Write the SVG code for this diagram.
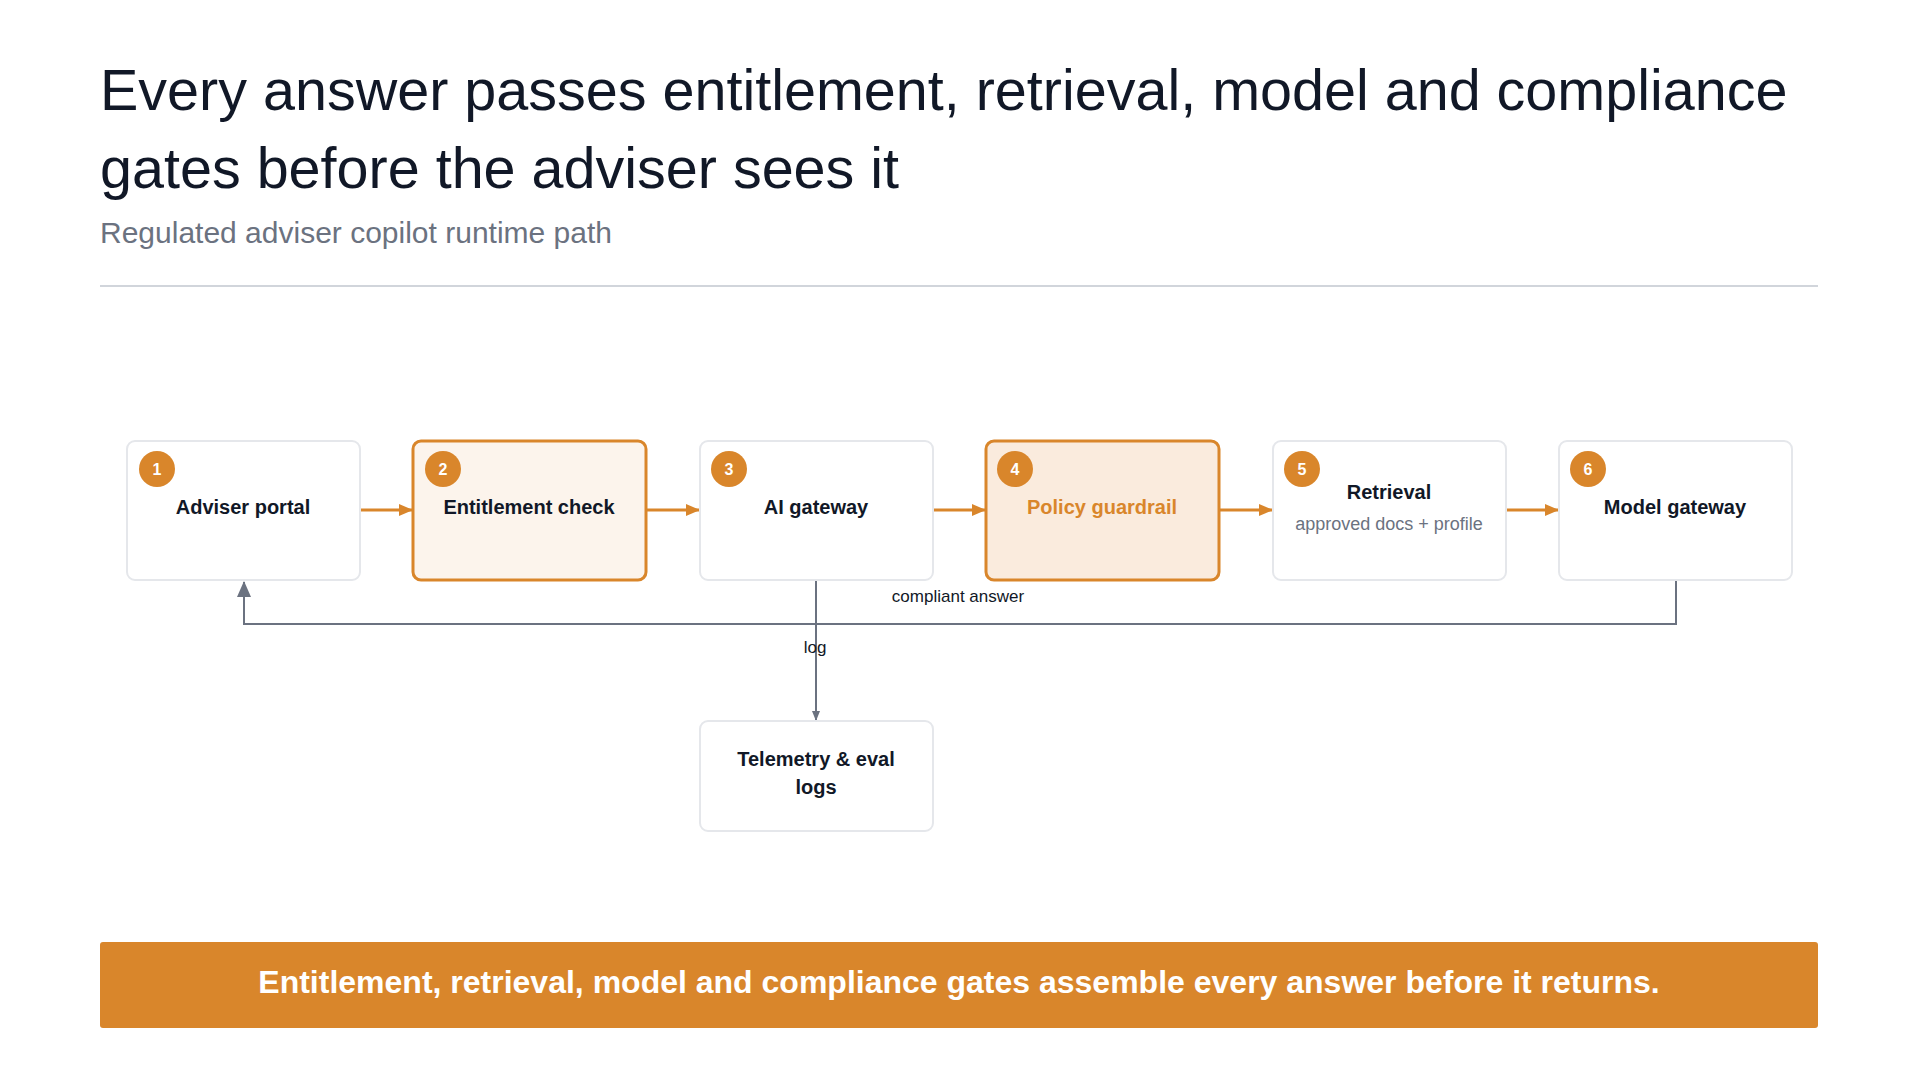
<svg xmlns="http://www.w3.org/2000/svg" width="1919" height="1080" viewBox="0 0 1919 1080">
<style>
text{font-family:"Liberation Sans",Arial,sans-serif}
.box{fill:#fff;stroke:#e5e7eb;stroke-width:2}
.hl{stroke:#d9862b;stroke-width:3}
.lbl{font-size:20px;font-weight:bold;fill:#111827;text-anchor:middle}
.num{font-size:16px;font-weight:bold;fill:#fff;text-anchor:middle}
.flow{stroke:#d9862b;stroke-width:3;fill:none;marker-end:url(#ao)}
.ret{stroke:#6b7280;stroke-width:2;fill:none}
.small{font-size:17px;fill:#111827;text-anchor:middle}
</style>
<defs>
<marker id="ao" markerWidth="14" markerHeight="12" refX="13" refY="6" orient="auto" markerUnits="userSpaceOnUse"><path d="M0,0 L14,6 L0,12 z" fill="#d9862b"/></marker>
<marker id="ag" markerWidth="16" markerHeight="16" refX="15" refY="8" orient="auto" markerUnits="userSpaceOnUse"><path d="M0,1 L16,8 L0,15 z" fill="#6b7280"/></marker>
<marker id="ag2" markerWidth="10" markerHeight="10" refX="9" refY="5" orient="auto" markerUnits="userSpaceOnUse"><path d="M0,1 L10,5 L0,9 z" fill="#6b7280"/></marker>
</defs>
<rect width="1919" height="1080" fill="#fff"/>
<text x="100" y="110" font-size="57.5" fill="#111827">Every answer passes entitlement, retrieval, model and compliance</text>
<text x="100" y="188" font-size="57.5" fill="#111827">gates before the adviser sees it</text>
<text x="100" y="243" font-size="30" fill="#6b7280">Regulated adviser copilot runtime path</text>
<line x1="100" y1="286" x2="1818" y2="286" stroke="#d1d5db" stroke-width="2"/>
<g id="connectors">
<line class="flow" x1="361" y1="510" x2="412" y2="510"/>
<line class="flow" x1="646" y1="510" x2="699" y2="510"/>
<line class="flow" x1="934" y1="510" x2="985" y2="510"/>
<line class="flow" x1="1220" y1="510" x2="1272" y2="510"/>
<line class="flow" x1="1507" y1="510" x2="1558" y2="510"/>
<path class="ret" d="M1676,581 V624 H244 V582" marker-end="url(#ag)"/>
<text class="small" x="958" y="602">compliant answer</text>
<path class="ret" d="M816,581 V720" marker-end="url(#ag2)"/>
<text class="small" x="815" y="653">log</text>
</g>
<g id="n1"><rect class="box" x="127" y="441" width="233" height="139" rx="8"/><circle cx="157" cy="469" r="18" fill="#d9862b"/><text class="num" x="157" y="475">1</text><text class="lbl" x="243" y="514">Adviser portal</text></g>
<g id="n2"><rect class="box hl" x="413" y="441" width="233" height="139" rx="8" style="fill:#fcf4ec"/><circle cx="443" cy="469" r="18" fill="#d9862b"/><text class="num" x="443" y="475">2</text><text class="lbl" x="529" y="514">Entitlement check</text></g>
<g id="n3"><rect class="box" x="700" y="441" width="233" height="139" rx="8"/><circle cx="729" cy="469" r="18" fill="#d9862b"/><text class="num" x="729" y="475">3</text><text class="lbl" x="816" y="514">AI gateway</text></g>
<g id="n4"><rect class="box hl" x="986" y="441" width="233" height="139" rx="8" style="fill:#faebdd"/><circle cx="1015" cy="469" r="18" fill="#d9862b"/><text class="num" x="1015" y="475">4</text><text class="lbl" x="1102" y="514" style="fill:#d9862b">Policy guardrail</text></g>
<g id="n5"><rect class="box" x="1273" y="441" width="233" height="139" rx="8"/><circle cx="1302" cy="469" r="18" fill="#d9862b"/><text class="num" x="1302" y="475">5</text><text class="lbl" x="1389" y="499">Retrieval</text><text x="1389" y="530" font-size="18" fill="#6b7280" text-anchor="middle">approved docs + profile</text></g>
<g id="n6"><rect class="box" x="1559" y="441" width="233" height="139" rx="8"/><circle cx="1588" cy="469" r="18" fill="#d9862b"/><text class="num" x="1588" y="475">6</text><text class="lbl" x="1675" y="514">Model gateway</text></g>
<g id="n7"><rect class="box" x="700" y="721" width="233" height="110" rx="8"/><text class="lbl" x="816" y="766">Telemetry &amp; eval</text><text class="lbl" x="816" y="794">logs</text></g>
<g id="banner"><rect x="100" y="942" width="1718" height="86" rx="3" fill="#d9862b"/><text x="959" y="993" font-size="32" font-weight="bold" fill="#fff" text-anchor="middle">Entitlement, retrieval, model and compliance gates assemble every answer before it returns.</text></g>
</svg>
